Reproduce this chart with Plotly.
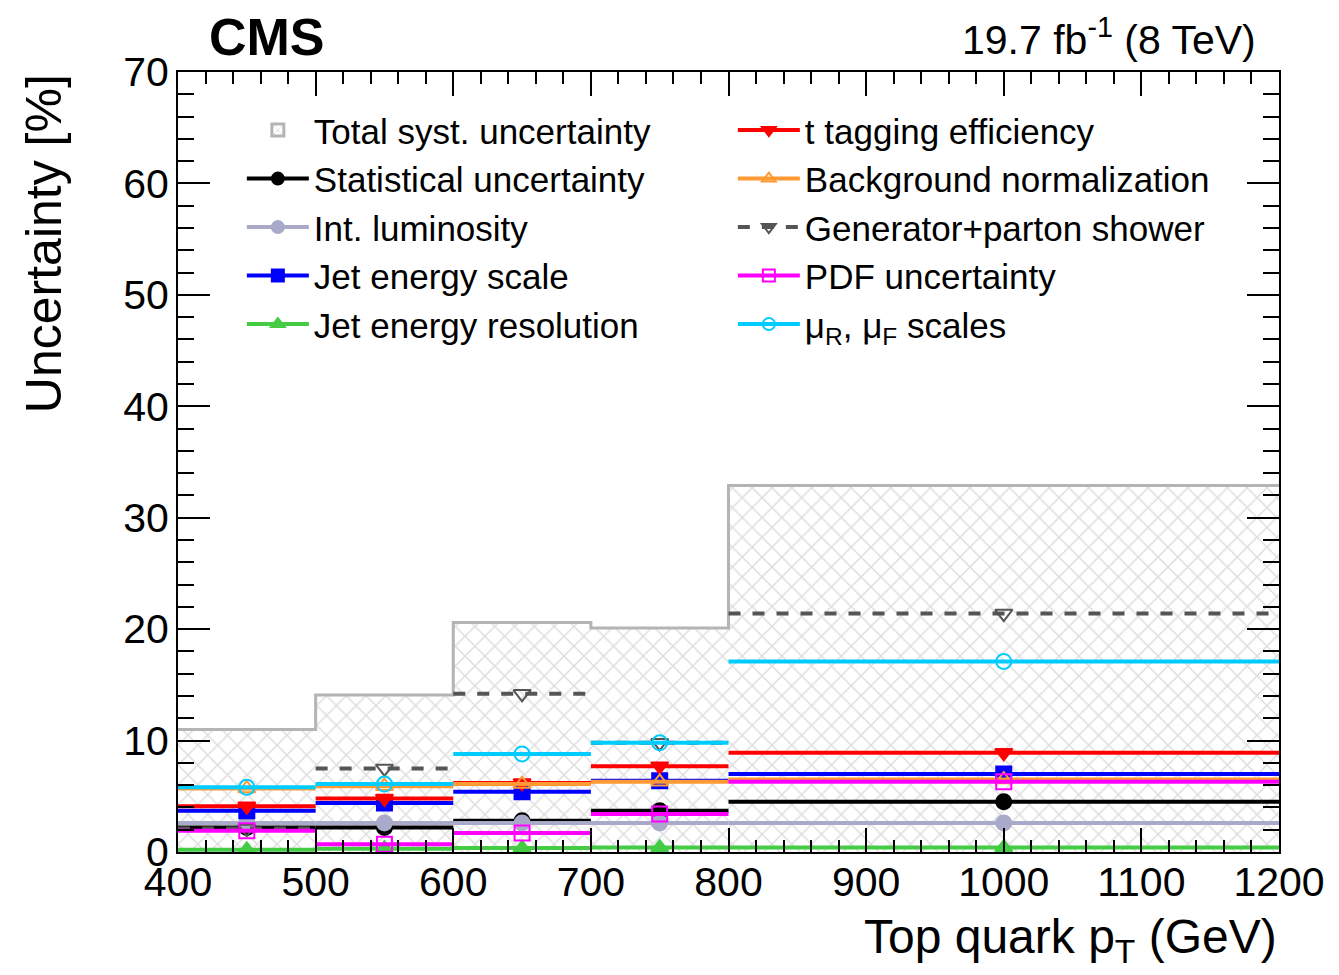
import plotly.graph_objects as go

# ---- data ----
bin_edges = [400, 500, 600, 700, 800, 1200]
bin_centers = [450, 550, 650, 750, 1000]
bin_widths = [100, 100, 100, 100, 400]
total_syst = [11.0, 14.1, 20.6, 20.1, 32.9]
stat_unc = [2.2, 2.2, 2.8, 3.7, 4.5]
int_lumi = [2.6, 2.6, 2.6, 2.6, 2.6]
jes = [3.7, 4.4, 5.4, 6.4, 7.0]
jer = [0.2, 0.3, 0.35, 0.4, 0.4]
ttag = [4.1, 4.8, 6.2, 7.7, 8.9]
bkg_norm = [5.7, 5.9, 6.1, 6.3, 6.5]
gen_ps = [2.1, 7.5, 14.2, 9.8, 21.4]
pdf_unc = [1.9, 0.7, 1.7, 3.4, 6.3]
mu_scales = [5.8, 6.1, 8.8, 9.8, 17.1]

FONT = "Liberation Sans, Arial, Helvetica, sans-serif"
HATCH = dict(shape="x", fgcolor="#bcbcbc", bgcolor="white", size=14, solidity=0.2)

fig = go.Figure()

# total systematic: hatched histogram (fill) + step outline
fig.add_trace(go.Bar(
    x=bin_centers, y=total_syst, width=bin_widths,
    marker=dict(color="white", pattern=HATCH, line=dict(width=0)),
    showlegend=False, hoverinfo="skip",
))
fig.add_trace(go.Scatter(
    x=bin_edges, y=total_syst + [total_syst[-1]],
    mode="lines", line=dict(shape="hv", color="#b4b4b4", width=3),
    showlegend=False, hoverinfo="skip",
))
fig.add_trace(go.Bar(
    x=[None], y=[None], name="Total syst. uncertainty", legendrank=1,
    marker=dict(color="white", pattern=HATCH, line=dict(color="#b4b4b4", width=3)),
))

series = [
    # name, values, color, symbol, dash, rank
    ("Statistical uncertainty", stat_unc, "#000000", "circle", "solid", 3),
    ("Int. luminosity", int_lumi, "#a9a9c9", "circle", "solid", 5),
    ("Jet energy scale", jes, "#0000ff", "square", "solid", 7),
    ("Jet energy resolution", jer, "#44cc44", "triangle-up", "solid", 9),
    ("t tagging efficiency", ttag, "#ff0000", "triangle-down", "solid", 2),
    ("Background normalization", bkg_norm, "#ff9933", "triangle-up-open", "solid", 4),
    ("Generator+parton shower", gen_ps, "#555555", "triangle-down-open", "dash", 6),
    ("PDF uncertainty", pdf_unc, "#ff00ff", "square-open", "solid", 8),
    ("μ<sub>R</sub>, μ<sub>F</sub> scales", mu_scales, "#00ccff", "circle-open", "solid", 10),
]

for name, vals, col, sym, dash, rank in series:
    xs, ys = [], []
    for i, v in enumerate(vals):
        xs += [bin_edges[i], bin_edges[i + 1], None]
        ys += [v, v, None]
    fig.add_trace(go.Scatter(
        x=xs, y=ys, mode="lines", line=dict(color=col, width=4, dash=dash),
        showlegend=False, legendgroup=name, hoverinfo="skip",
    ))
    fig.add_trace(go.Scatter(
        x=bin_centers, y=vals, mode="markers",
        marker=dict(symbol=sym, size=15, color=col, line=dict(color=col, width=2)),
        showlegend=False, legendgroup=name,
    ))
    fig.add_trace(go.Scatter(
        x=[None], y=[None], mode="lines+markers", name=name, legendgroup=name,
        line=dict(color=col, width=4, dash=dash),
        marker=dict(symbol=sym, size=12, color=col, line=dict(color=col, width=2)),
        legendrank=rank,
    ))

axis_common = dict(
    showline=True, linecolor="black", linewidth=2, mirror="ticks",
    ticks="inside", tickcolor="black", tickwidth=2,
    showgrid=False, zeroline=False, automargin=False,
    tickfont=dict(family=FONT, size=41, color="black"),
)

fig.update_xaxes(range=[400, 1200], dtick=100, tick0=400, ticklen=24,
                 minor=dict(dtick=20, ticklen=12, ticks="inside", tickcolor="black", tickwidth=2),
                 ticklabelstandoff=-7, **axis_common)
fig.update_yaxes(range=[0, 70], dtick=10, tick0=0, ticklen=32,
                 minor=dict(dtick=2, ticklen=16, ticks="inside", tickcolor="black", tickwidth=2),
                 ticklabelstandoff=-1, **axis_common)

fig.update_layout(
    width=1323, height=959,
    margin=dict(l=170, r=52, t=64, b=115),
    paper_bgcolor="white", plot_bgcolor="white",
    bargap=0, barmode="overlay",
    font=dict(family=FONT, color="black"),
    legend=dict(
        orientation="h", x=0.058, y=0.963, xanchor="left", yanchor="top",
        entrywidth=414, entrywidthmode="pixels", itemwidth=62,
        font=dict(family=FONT, size=35, color="black"),
        bgcolor="rgba(0,0,0,0)", traceorder="normal",
    ),
    annotations=[
        dict(text="<b>CMS</b>", xref="paper", yref="paper", x=0.026, y=1.045,
             xanchor="left", yanchor="middle", showarrow=False,
             font=dict(family=FONT, size=52, color="black")),
        dict(text="19.7 fb<sup>-1</sup> (8 TeV)", xref="paper", yref="paper", x=0.981, y=1.045,
             xanchor="right", yanchor="middle", showarrow=False,
             font=dict(family=FONT, size=41, color="black")),
        dict(text="Top quark p<sub>T</sub> (GeV)", xref="paper", yref="paper", x=1.0, y=-0.113,
             xanchor="right", yanchor="middle", showarrow=False,
             font=dict(family=FONT, size=48, color="black")),
        dict(text="Uncertainty [%]", xref="paper", yref="paper", x=-0.122, y=1.0,
             xanchor="center", yanchor="top", textangle=-90, showarrow=False,
             font=dict(family=FONT, size=50, color="black")),
    ],
)

fig.write_html("out.html")
